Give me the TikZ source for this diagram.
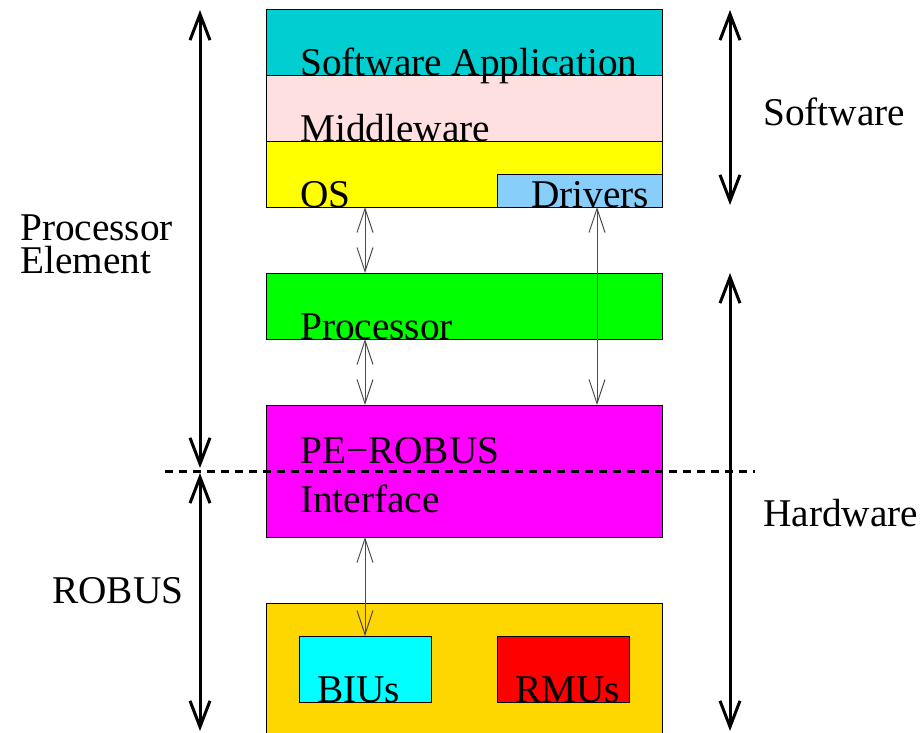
\documentclass[tikz,border=0pt]{standalone}
\usepackage{fontspec}
\setmainfont{Liberation Serif}
\usetikzlibrary{arrows.meta}

\definecolor{swapp}{RGB}{0,206,209}
\definecolor{midware}{RGB}{255,224,224}
\definecolor{osyellow}{RGB}{255,255,0}
\definecolor{drvblue}{RGB}{135,206,250}
\definecolor{procgreen}{RGB}{0,255,0}
\definecolor{pemag}{RGB}{255,0,255}
\definecolor{robusgold}{RGB}{255,215,0}
\definecolor{biucyan}{RGB}{0,255,255}
\definecolor{rmured}{RGB}{255,0,0}

\begin{document}
\begin{tikzpicture}[x=1pt,y=-1pt,
  layer/.style={draw=black,line width=1pt,inner sep=0pt,anchor=north west},
  lbl/.style={anchor=base west,inner sep=0pt,font=\fontsize{39.3}{40}\selectfont},
  bigarrow/.style={line width=3pt,{Straight Barb[length=26pt,width=20pt]}-{Straight Barb[length=26pt,width=20pt]}},
  bigtip/.style={line width=3pt,-{Straight Barb[length=26pt,width=20pt]}},
  linkarrow/.style={line width=1pt,draw=black!70,{Straight Barb[length=24pt,width=16pt]}-{Straight Barb[length=24pt,width=16pt]}},
  border/.style={line width=3pt,dash pattern=on 8pt off 6pt}]
\useasboundingbox (0,0) rectangle (922,732);

% software stack
\node[layer,fill=swapp,minimum width=396pt,minimum height=66pt] (app) at (266,9) {};
\node[layer,fill=midware,minimum width=396pt,minimum height=66pt] (mid) at (266,75) {};
\node[layer,fill=osyellow,minimum width=396pt,minimum height=66pt] (os) at (266,141) {};
\node[layer,fill=drvblue,minimum width=165pt,minimum height=33pt] (drv) at (497,174) {};

% hardware blocks
\node[layer,fill=procgreen,minimum width=396pt,minimum height=66pt] (proc) at (266,273) {};
\node[layer,fill=pemag,minimum width=396pt,minimum height=132pt] (pe) at (266,405) {};
\fill[robusgold] (266,603) rectangle (662,733);
\draw[line width=1pt] (266,733) -- (266,603) -- (662,603) -- (662,733);
\node[layer,fill=biucyan,minimum width=132pt,minimum height=66pt] (biu) at (299,636) {};
\node[layer,fill=rmured,minimum width=132pt,minimum height=66pt] (rmu) at (497,636) {};

% block labels
\node[lbl] (tapp) at (300,75) {Software Application};
\node[lbl] (tmid) at (300,141) {Middleware};
\node[lbl] (tos) at (300,207) {OS};
\node[lbl] (tdrv) at (531,207) {Drivers};
\node[lbl] (tproc) at (300,339) {Processor};
\node[lbl] (tpe1) at (300,463) {PE−ROBUS};
\node[lbl] (tpe2) at (300,512) {Interface};
\node[lbl] (tbiu) at (317,702) {BIUs};
\node[lbl] (trmu) at (515,702) {RMUs};

% side labels
\node[lbl] (tpe) at (20,240) {Processor};
\node[lbl] (tel) at (20,273) {Element};
\node[lbl] (trob) at (52,603) {ROBUS};
\node[lbl] (tsw) at (763,125) {Software};
\node[lbl] (thw) at (763,526) {Hardware};

% links between blocks
\coordinate (osB) at (365,207);
\coordinate (procT) at (365,273);
\coordinate (procB) at (365,339);
\coordinate (peT) at (365,405);
\coordinate (peB) at (365,537);
\coordinate (biuT) at (365,636);
\coordinate (drvB) at (597,207);
\coordinate (peT2) at (597,405);
\draw[linkarrow] (osB) -- (procT);
\draw[linkarrow] (procB) -- (peT);
\draw[linkarrow] (peB) -- (biuT);
\draw[linkarrow] (drvB) -- (peT2);

% processor element / ROBUS boundary
\coordinate (bndL) at (165,471);
\coordinate (bndR) at (755,471);
\draw[border] (bndL) -- (bndR);

% extent arrows
\coordinate (peTop) at (200,10);
\coordinate (peBot) at (200,468);
\coordinate (robTop) at (200,473);
\coordinate (robBot) at (200,731);
\coordinate (swTop) at (730,10);
\coordinate (swBot) at (730,205);
\coordinate (hwTop) at (730,273);
\coordinate (hwBot) at (730,731);
\draw[bigarrow] (peTop) -- (peBot);
\draw[bigarrow] (robTop) -- (robBot);
\draw[bigarrow] (swTop) -- (swBot);
\draw[bigarrow] (hwTop) -- (hwBot);
\end{tikzpicture}
\end{document}
